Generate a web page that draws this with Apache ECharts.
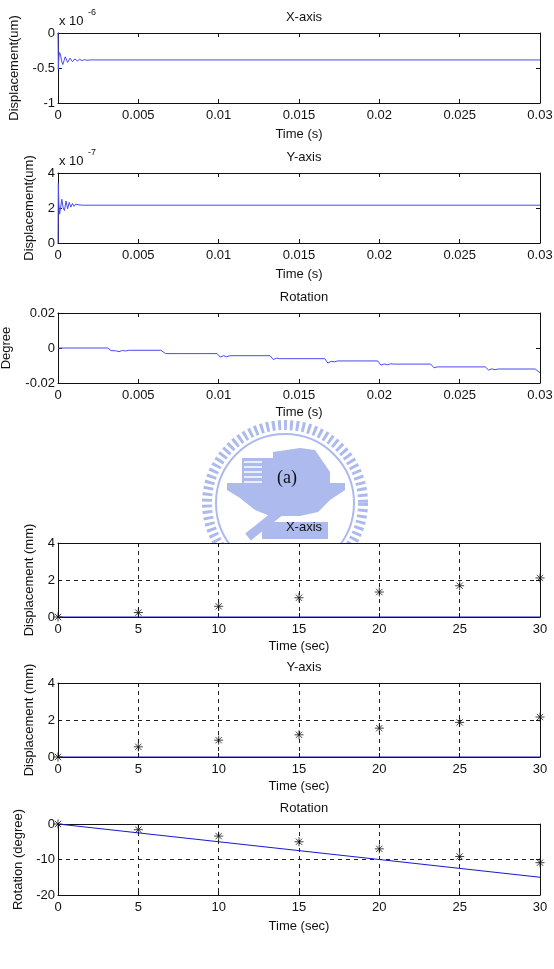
<!DOCTYPE html>
<html>
<head>
<meta charset="utf-8">
<script src="https://cdn.jsdelivr.net/npm/echarts@6/dist/echarts.min.js"></script>
<style>
  html, body { margin: 0; padding: 0; background: #fff; }
  #chart { width: 554px; height: 969px; }
</style>
</head>
<body>
<div id="chart"></div>
<script>
// (a) simulation -- time in seconds
// X displacement in units of 1e-6 um
const simTimeX = [0, 0.00002, 0.00005, 0.0001, 0.00016, 0.00022, 0.0003, 0.00045, 0.0006, 0.00075, 0.0009, 0.00105, 0.0012, 0.00135, 0.0015, 0.00165, 0.0018, 0.002, 0.03];
const simDispX = [0, -0.52, -0.35, -0.28, -0.31, -0.40, -0.45, -0.34, -0.42, -0.36, -0.41, -0.37, -0.40, -0.375, -0.395, -0.38, -0.39, -0.385, -0.385];
// Y displacement in units of 1e-7 um
const simTimeY = [0, 0.00002, 0.00005, 0.0001, 0.00016, 0.00024, 0.00032, 0.0004, 0.0005, 0.0006, 0.0007, 0.0008, 0.0009, 0.001, 0.0011, 0.0012, 0.0013, 0.0015, 0.03];
const simDispY = [0, 3.4, 2.3, 1.65, 2.0, 2.5, 2.0, 1.85, 2.4, 1.95, 2.32, 2.05, 2.26, 2.1, 2.22, 2.13, 2.18, 2.16, 2.16];
// rotation in degree
const simTimeR = [0, 0.0031, 0.0033, 0.0034, 0.0036, 0.0038, 0.004, 0.0042, 0.0044, 0.0064, 0.0067, 0.0099, 0.0101, 0.0103, 0.0105, 0.0107, 0.0132, 0.0134, 0.0136, 0.0138, 0.0166, 0.0168, 0.017, 0.0172, 0.0174, 0.0199, 0.0201, 0.0203, 0.0205, 0.0207, 0.0209, 0.0232, 0.0234, 0.0236, 0.0266, 0.0268, 0.027, 0.0272, 0.0274, 0.0297, 0.03];
const simRot = [0, 0, -0.0015, -0.0024, -0.0016, -0.0021, -0.0014, -0.0017, -0.0013, -0.0013, -0.0032, -0.0032, -0.0052, -0.0044, -0.005, -0.0044, -0.0044, -0.0066, -0.0058, -0.0061, -0.0061, -0.0086, -0.0076, -0.0079, -0.0074, -0.0074, -0.0098, -0.0091, -0.0096, -0.009, -0.0092, -0.0092, -0.0113, -0.0108, -0.0108, -0.0126, -0.0119, -0.0124, -0.012, -0.012, -0.0142];

// (b) measurement -- time in sec
const measTime = [0, 5, 10, 15, 20, 25, 30];
const measDispX = [0, 0.24, 0.58, 1.04, 1.35, 1.69, 2.11];
const measDispY = [0, 0.55, 0.91, 1.2, 1.56, 1.87, 2.16];
const measRot = [0, -1.6, -3.4, -5.0, -7.0, -9.15, -10.9];
// model lines (blue)
const modelTime = [0, 30];
const modelDispX = [0, 0];
const modelDispY = [0, 0];
const modelRot = [0, -15];

const FONT = 'Liberation Sans, Arial, sans-serif';
const INK = '#111';
const TICK_FMT = v => String(+v.toFixed(3));

const panels = [
  { top: 33, h: 70, x: [0, 0.03, 0.005], y: [-1, 0, 0.5], title: 'X-axis', xName: 'Time (s)', yName: 'Displacement(um)', yGap: 37, xGap: 25, grid: false },
  { top: 173, h: 70, x: [0, 0.03, 0.005], y: [0, 4, 2], title: 'Y-axis', xName: 'Time (s)', yName: 'Displacement(um)', yGap: 22, xGap: 25, grid: false },
  { top: 313, h: 70, x: [0, 0.03, 0.005], y: [-0.02, 0.02, 0.02], title: 'Rotation', xName: 'Time (s)', yName: 'Degree', yGap: 45, xGap: 23, grid: false },
  { top: 543, h: 74, x: [0, 30, 5], y: [0, 4, 2], title: 'X-axis', xName: 'Time (sec)', yName: 'Displacement (mm)', yGap: 22, xGap: 23, grid: true },
  { top: 683, h: 74, x: [0, 30, 5], y: [0, 4, 2], title: 'Y-axis', xName: 'Time (sec)', yName: 'Displacement (mm)', yGap: 22, xGap: 23, grid: true },
  { top: 824, h: 71, x: [0, 30, 5], y: [-20, 0, 10], title: 'Rotation', xName: 'Time (sec)', yName: 'Rotation (degree)', yGap: 31, xGap: 25, grid: true }
];

const LEFT = 58, RIGHT = 540;
const txt = { fontFamily: FONT, fontSize: 13, color: INK };
const dashed = { show: true, lineStyle: { color: '#222', type: [4, 4], width: 1 } };

const grid = [], xAxis = [], yAxis = [], title = [];
panels.forEach((p, i) => {
  grid.push({
    left: LEFT, width: RIGHT - LEFT, top: p.top, height: p.h,
    containLabel: false, outerBoundsMode: 'none',
    show: true, backgroundColor: '#fff', borderWidth: 0
  });
  title.push({ text: p.title, left: (LEFT + RIGHT) / 2, top: p.top - 27, textAlign: 'center', textStyle: { ...txt, fontWeight: 'normal' } });
  ['bottom', 'top'].forEach(pos => {
    const main = pos === 'bottom';
    xAxis.push({
      type: 'value', gridIndex: i, position: pos, min: p.x[0], max: p.x[1], interval: p.x[2],
      name: main ? p.xName : '', nameLocation: 'middle', nameGap: p.xGap, nameTextStyle: txt,
      axisLine: { show: true, onZero: false, lineStyle: { color: INK, width: 1 } },
      axisTick: { show: true, inside: true, length: 4, lineStyle: { color: INK } },
      axisLabel: { show: main, ...txt, margin: 6, formatter: TICK_FMT, hideOverlap: false },
      splitLine: main && p.grid ? dashed : { show: false }
    });
  });
  ['left', 'right'].forEach(pos => {
    const main = pos === 'left';
    yAxis.push({
      type: 'value', gridIndex: i, position: pos, min: p.y[0], max: p.y[1], interval: p.y[2],
      name: main ? p.yName : '', nameLocation: 'middle', nameGap: p.yGap, nameRotate: 90, nameTextStyle: txt,
      axisLine: { show: true, onZero: false, lineStyle: { color: INK, width: 1 } },
      axisTick: { show: true, inside: true, length: 4, lineStyle: { color: INK } },
      axisLabel: { show: main, ...txt, margin: 3, formatter: TICK_FMT },
      splitLine: main && p.grid ? dashed : { show: false }
    });
  });
});

const pairs = (xs, ys) => xs.map((x, k) => [x, ys[k]]);
const simLine = (i, xs, ys) => ({
  type: 'line', xAxisIndex: 2 * i, yAxisIndex: 2 * i, data: pairs(xs, ys),
  showSymbol: false, lineStyle: { color: '#4a4af0', width: 1 }, animation: false, z: 3
});
const modelLine = (i, xs, ys) => ({
  type: 'line', xAxisIndex: 2 * i, yAxisIndex: 2 * i, data: pairs(xs, ys),
  showSymbol: false, lineStyle: { color: '#1a1ad0', width: 1.2 }, animation: false, z: 3
});
const STAR = 'path://M0,-5L0,5M-5,0L5,0M-3.5,-3.5L3.5,3.5M-3.5,3.5L3.5,-3.5';
const measPts = (i, xs, ys) => ({
  type: 'scatter', xAxisIndex: 2 * i, yAxisIndex: 2 * i, data: pairs(xs, ys),
  symbol: STAR, symbolSize: 9, itemStyle: { color: 'none', borderColor: '#111', borderWidth: 1 },
  animation: false, z: 4
});

const series = [
  simLine(0, simTimeX, simDispX),
  simLine(1, simTimeY, simDispY),
  simLine(2, simTimeR, simRot),
  modelLine(3, modelTime, modelDispX), measPts(3, measTime, measDispX),
  modelLine(4, modelTime, modelDispY), measPts(4, measTime, measDispY),
  modelLine(5, modelTime, modelRot), measPts(5, measTime, measRot)
];

// faint watermark emblem behind "(a)"
const LOGO = '#adbaee';
const logo = [
  { type: 'circle', shape: { cx: 285, cy: 503, r: 78 }, style: { fill: 'none', stroke: LOGO, lineWidth: 10, lineDash: [3, 3] }, z: -10 },
  { type: 'circle', shape: { cx: 285, cy: 503, r: 69 }, style: { fill: 'none', stroke: LOGO, lineWidth: 2 }, z: -10 },
  { type: 'rect', shape: { x: 242, y: 458, width: 31, height: 27 }, style: { fill: LOGO }, z: -10 },
  { type: 'polygon', shape: { points: [[273, 452], [300, 448], [315, 450], [330, 472], [330, 485], [273, 485]] }, style: { fill: LOGO }, z: -10 },
  { type: 'polygon', shape: { points: [[227, 483], [345, 483], [345, 490], [330, 500], [318, 512], [300, 516], [270, 516], [255, 510], [240, 498], [227, 490]] }, style: { fill: LOGO }, z: -10 },
  { type: 'line', shape: { x1: 248, y1: 537, x2: 322, y2: 478 }, style: { stroke: LOGO, lineWidth: 9 }, z: -10 },
  { type: 'rect', shape: { x: 262, y: 522, width: 66, height: 17 }, style: { fill: LOGO }, z: -10 }
];
[462, 467, 472, 477, 482].forEach(y => logo.push({ type: 'line', shape: { x1: 244, y1: y, x2: 262, y2: y }, style: { stroke: '#fff', lineWidth: 1.5 }, z: -9 }));

const graphic = logo.concat([
  { type: 'text', left: 59, top: 15, style: { text: 'x 10', font: '13px ' + FONT, fill: INK }, z: 10 },
  { type: 'text', left: 88, top: 8, style: { text: '-6', font: '9px ' + FONT, fill: INK }, z: 10 },
  { type: 'text', left: 59, top: 155, style: { text: 'x 10', font: '13px ' + FONT, fill: INK }, z: 10 },
  { type: 'text', left: 88, top: 148, style: { text: '-7', font: '9px ' + FONT, fill: INK }, z: 10 },
  { type: 'text', left: 277, top: 469, style: { text: '(a)', font: '18px Liberation Serif, Times New Roman, serif', fill: INK }, z: 10 }
]);

const chart = echarts.init(document.getElementById('chart'));
chart.setOption({
  animation: false,
  backgroundColor: '#fff',
  title, grid, xAxis, yAxis, series, graphic
});
</script>
</body>
</html>
